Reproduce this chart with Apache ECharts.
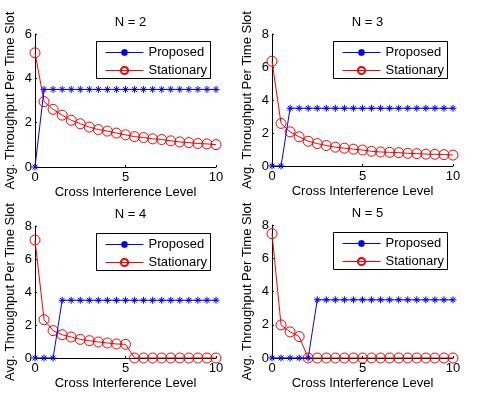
<!DOCTYPE html>
<html lang="en">
<head>
    <meta charset="UTF-8">
    <title>Throughput vs cross interference</title>
    <script src="https://cdn.jsdelivr.net/npm/echarts@6/dist/echarts.min.js"></script>
</head>
<body style="margin:0;background:#fff;">
    <div id="main" style="width: 484px;height:395px;"></div>
    <script type="text/javascript">
        var myChart = echarts.init(document.getElementById('main'));

        // cross interference level, 0:0.5:10
        let xs = [0, 0.5, 1, 1.5, 2, 2.5, 3, 3.5, 4, 4.5, 5, 5.5, 6, 6.5, 7, 7.5, 8, 8.5, 9, 9.5, 10];
        let titles = ['N = 2', 'N = 3', 'N = 4', 'N = 5'];
        let yMax = [6, 8, 8, 8];

        let proposed2 = [0, 3.5, 3.5, 3.5, 3.5, 3.5, 3.5, 3.5, 3.5, 3.5, 3.5, 3.5, 3.5, 3.5, 3.5, 3.5, 3.5, 3.5, 3.5, 3.5, 3.5];
        let stationary2 = [5.15, 2.95, 2.6, 2.34, 2.11, 1.95, 1.8, 1.69, 1.62, 1.53, 1.45, 1.37, 1.33, 1.27, 1.24, 1.18, 1.13, 1.1, 1.06, 1.04, 1.01];
        let proposed3 = [0, 0, 3.5, 3.5, 3.5, 3.5, 3.5, 3.5, 3.5, 3.5, 3.5, 3.5, 3.5, 3.5, 3.5, 3.5, 3.5, 3.5, 3.5, 3.5, 3.5];
        let stationary3 = [6.35, 2.58, 2.07, 1.77, 1.5, 1.36, 1.24, 1.14, 1.08, 1.02, 0.97, 0.89, 0.85, 0.83, 0.81, 0.77, 0.75, 0.72, 0.71, 0.69, 0.66];
        let proposed4 = [0, 0, 0, 3.5, 3.5, 3.5, 3.5, 3.5, 3.5, 3.5, 3.5, 3.5, 3.5, 3.5, 3.5, 3.5, 3.5, 3.5, 3.5, 3.5, 3.5];
        let stationary4 = [7.15, 2.32, 1.66, 1.41, 1.27, 1.13, 1.05, 0.97, 0.91, 0.85, 0.83, 0, 0, 0, 0, 0, 0, 0, 0, 0, 0];
        let proposed5 = [0, 0, 0, 0, 0, 3.5, 3.5, 3.5, 3.5, 3.5, 3.5, 3.5, 3.5, 3.5, 3.5, 3.5, 3.5, 3.5, 3.5, 3.5, 3.5];
        let stationary5 = [7.48, 1.99, 1.57, 1.29, 0, 0, 0, 0, 0, 0, 0, 0, 0, 0, 0, 0, 0, 0, 0, 0, 0];

        let proposedAll = [proposed2, proposed3, proposed4, proposed5];
        let stationaryAll = [stationary2, stationary3, stationary4, stationary5];

        // plot boxes [left, top, width, height]
        let boxes = [
            [35, 34, 181, 133],
            [272, 34, 181, 132],
            [35, 226, 181, 132],
            [272, 225, 181, 133],
        ];

        let font = 'Liberation Sans, Arial, sans-serif';
        let fs = 13;
        let blue = '#0000ff', red = '#ff0000';
        let star = 'path://M5,0L5,10M0,5L10,5M1.6,1.6L8.4,8.4M1.6,8.4L8.4,1.6';

        let pairs = (ys) => xs.map((x, i) => [x, ys[i]]);

        let grid = [], xAxis = [], yAxis = [], series = [], title = [], legend = [], frames = [];
        for (let i = 0; i < 4; i++) {
            let b = boxes[i];
            grid.push({left: b[0], top: b[1], width: b[2], height: b[3]});
            title.push({
                text: titles[i],
                left: b[0] + b[2] / 2,
                top: b[1] - 23,
                textAlign: 'center',
                textStyle: {fontSize: fs, fontWeight: 'normal', color: '#000', fontFamily: font},
            });
            xAxis.push({
                type: 'value', gridIndex: i, min: 0, max: 10, interval: 5,
                name: 'Cross Interference Level', nameLocation: 'middle', nameGap: 19,
                nameTextStyle: {fontSize: fs, color: '#000', fontFamily: font},
                axisLine: {lineStyle: {color: '#000', width: 1}},
                axisTick: {inside: true, length: 2, lineStyle: {color: '#000'}},
                axisLabel: {fontSize: fs, color: '#000', margin: 4, fontFamily: font},
                splitLine: {show: false},
            });
            yAxis.push({
                type: 'value', gridIndex: i, min: 0, max: yMax[i], interval: 2,
                name: 'Avg. Throughput Per Time Slot', nameLocation: 'middle', nameGap: 18,
                nameTextStyle: {fontSize: fs, color: '#000', fontFamily: font},
                axisLine: {show: true, lineStyle: {color: '#000', width: 1}},
                axisTick: {show: true, inside: true, length: 2, lineStyle: {color: '#000'}},
                axisLabel: {fontSize: fs, color: '#000', margin: 3, fontFamily: font},
                splitLine: {show: false},
            });
            series.push({
                name: 'Proposed', type: 'line', xAxisIndex: i, yAxisIndex: i,
                data: pairs(proposedAll[i]),
                symbol: star, symbolSize: 7,
                lineStyle: {color: blue, width: 1},
                itemStyle: {color: blue, borderColor: blue, borderWidth: 1},
                animation: false, z: 3,
            });
            series.push({
                name: 'Stationary', type: 'line', xAxisIndex: i, yAxisIndex: i,
                data: pairs(stationaryAll[i]),
                symbol: 'circle', symbolSize: 10,
                lineStyle: {color: red, width: 1},
                itemStyle: {color: 'rgba(0,0,0,0)', borderColor: red, borderWidth: 1},
                animation: false, z: 2,
            });
            // legend frame (white box with black edge, MATLAB style)
            frames.push({
                type: 'rect', z: 9,
                shape: {x: b[0] + 61.5, y: b[1] + 7.5, width: 114, height: 37},
                style: {fill: '#fff', stroke: '#000', lineWidth: 1},
            });
            legend.push({
                data: [
                    {name: 'Proposed', lineStyle: {color: blue, width: 1}},
                    {name: 'Stationary', lineStyle: {color: red, width: 1}},
                ],
                orient: 'vertical',
                left: b[0] + 65,
                top: b[1] + 9,
                itemWidth: 38, itemHeight: 9, itemGap: 5,
                padding: [3, 6, 3, 5],
                textStyle: {fontSize: fs, color: '#000', fontFamily: font},
                selectedMode: false,
                z: 10,
            });
        }

        let option = {
            backgroundColor: '#fff',
            animation: false,
            title: title,
            legend: legend,
            graphic: frames,
            grid: grid,
            xAxis: xAxis,
            yAxis: yAxis,
            series: series,
        };

        myChart.setOption(option);
    </script>
</body>
</html>
